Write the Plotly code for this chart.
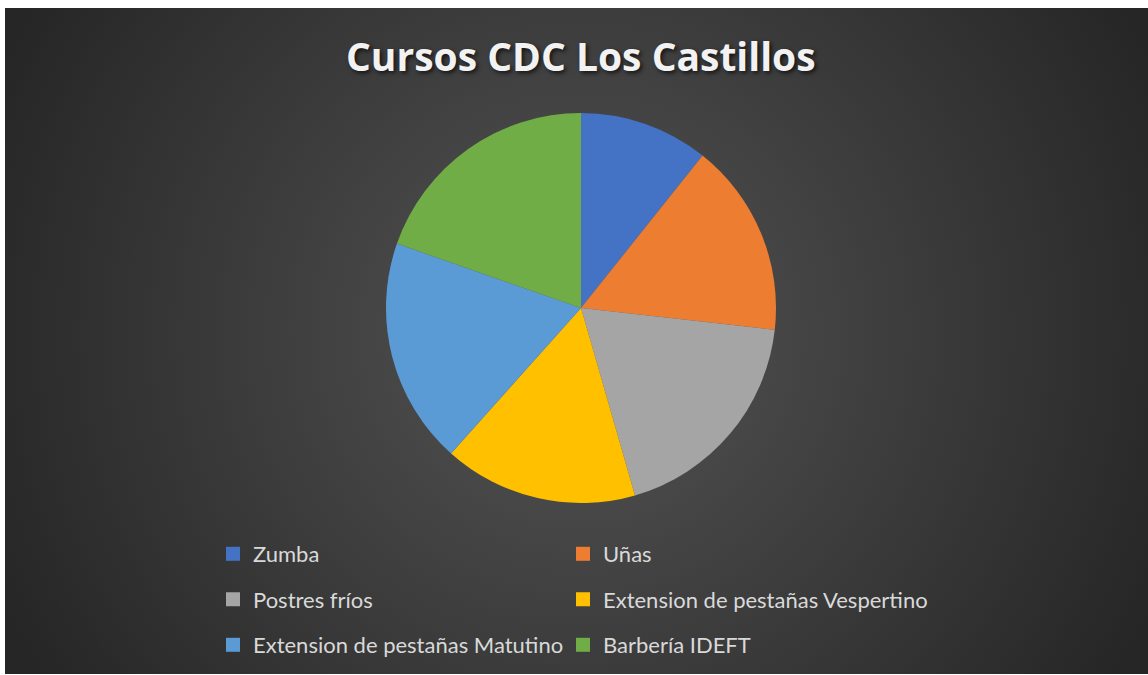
import base64
import plotly.graph_objects as go

# Cursos y cantidad de participantes
cursos = ['Zumba', 'Uñas', 'Postres fríos', 'Extension de pestañas Vespertino',
          'Extension de pestañas Matutino', 'Barbería IDEFT']
participantes = [12, 18, 21, 18, 21, 22]
colores = ['#4472C4', '#ED7D31', '#A5A5A5', '#FFC000', '#5B9BD5', '#70AD47']

W, H = 1148, 675

# fondo con degradado radial (como el estilo oscuro de Excel)
svg = f'''<svg xmlns="http://www.w3.org/2000/svg" width="{W}" height="{H}">
<defs><radialGradient id="g" cx="576" cy="330" r="640" gradientUnits="userSpaceOnUse">
<stop offset="0" stop-color="#545454"/><stop offset="1" stop-color="#262626"/>
</radialGradient></defs><rect width="{W}" height="{H}" fill="url(#g)"/></svg>'''
fondo = 'data:image/svg+xml;base64,' + base64.b64encode(svg.encode()).decode()

fig = go.Figure()

fig.add_trace(go.Pie(labels=cursos,
                     values=participantes,
                     marker=dict(colors=colores, line=dict(width=0)),
                     sort=False,
                     direction='clockwise',
                     rotation=0,
                     textinfo='none',
                     showlegend=False,
                     domain=dict(x=[386 / W, 776 / W], y=[1 - 503 / H, 1 - 113 / H])))

# leyenda en dos columnas y tres filas: una leyenda por entrada
leyendas = {}
for i, (curso, color) in enumerate(zip(cursos, colores)):
    nombre = 'legend' if i == 0 else f'legend{i + 1}'
    fig.add_trace(go.Scatter(x=[None], y=[None], mode='markers', name=curso,
                             marker=dict(symbol='square', size=14, color=color),
                             legend=nombre, hoverinfo='skip'))
    col, fila = i % 2, i // 2
    leyendas[nombre] = dict(orientation='h', xanchor='left', yanchor='middle',
                            x=(213 + 350 * col) / W, y=1 - (554 + 45.5 * fila) / H,
                            bgcolor='rgba(0,0,0,0)', itemwidth=30,
                            font=dict(family='Lato', size=22, color='#D9D9D9'))

fig.update_layout(
    width=W, height=H, autosize=False,
    margin=dict(l=0, r=0, t=0, b=0),
    paper_bgcolor='white', plot_bgcolor='rgba(0,0,0,0)',
    xaxis=dict(visible=False), yaxis=dict(visible=False),
    images=[dict(source=fondo, xref='paper', yref='paper', x=5 / W, y=1 - 8 / H,
                 sizex=(W - 5) / W, sizey=(H - 9) / H, xanchor='left', yanchor='top',
                 sizing='stretch', layer='below')],
    annotations=[dict(text='<b>Cursos CDC Los Castillos</b>', xref='paper', yref='paper',
                      x=581 / W, y=1 - 55 / H, showarrow=False, xanchor='center', yanchor='middle',
                      font=dict(family='Open Sans', size=39, color='#F2F2F2',
                                shadow='2px 2px 4px rgba(0,0,0,0.7)'))],
    **leyendas,
)

fig.write_html("out.html", config={'displayModeBar': False},
               post_script="document.body.style.margin='0';")
